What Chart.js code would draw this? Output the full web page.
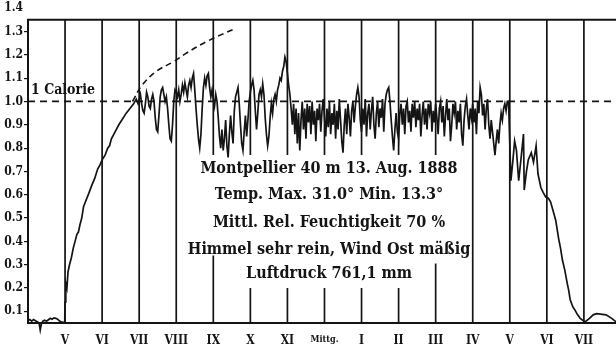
<!DOCTYPE html>
<html>
<head>
<meta charset="utf-8">
<script src="https://cdn.jsdelivr.net/npm/chart.js@4/dist/chart.umd.min.js"></script>
<style>
  html, body { margin: 0; padding: 0; background: #ffffff; }
  #wrap { width: 616px; height: 345px; }
</style>
</head>
<body>
<div id="wrap"><canvas id="c" width="616" height="345"></canvas></div>
<script>
// ---- tick data ----
const hourTicks  = [5, 6, 7, 8, 9, 10, 11, 12, 13, 14, 15, 16, 17, 18, 19];
const hourLabels = ['V', 'VI', 'VII', 'VIII', 'IX', 'X', 'XI', 'Mittg.', 'I', 'II', 'III', 'IV', 'V', 'VI', 'VII'];
const calorieTicks = [0.1, 0.2, 0.3, 0.4, 0.5, 0.6, 0.7, 0.8, 0.9, 1.0, 1.1, 1.2, 1.3, 1.4];

// hour lines are interrupted behind the text block: upper part ends at gapTop, lower part resumes at gapBottom
const hourLineGapTop    = [null, null, null, null, 0.77, 0.77, 0.77, 0.77, 0.77, 0.77, 0.77, null, null, null, null];
const hourLineGapBottom = [null, null, null, null, 0.34, 0.20, 0.20, 0.20, 0.20, 0.20, 0.305, null, null, null, null];

// ---- readings [hour, calories] ----
const nightReadings = [
  [4.00,0.060],[4.05,0.065],[4.10,0.058],[4.15,0.065],[4.20,0.060],[4.25,0.055],[4.30,0.050],[4.33,0.020],
  [4.36,0.045],[4.40,0.058],[4.45,0.062],[4.50,0.058],[4.55,0.064],[4.60,0.070],[4.65,0.066],[4.70,0.072],
  [4.75,0.070],[4.80,0.066],[4.85,0.058],[4.90,0.055],[4.95,0.053],[4.99,0.050]
];
const sunriseReadings = [
  [5.00,0.14],[5.02,0.22],[5.05,0.20],[5.08,0.27],[5.12,0.30],[5.17,0.33],[5.22,0.37],[5.27,0.40],
  [5.32,0.43],[5.36,0.44],[5.40,0.47],[5.45,0.50],[5.50,0.55],[5.55,0.57],[5.60,0.59],[5.65,0.61],
  [5.72,0.64],[5.80,0.67],[5.88,0.71],[5.95,0.73],[6.00,0.75],[6.08,0.77],[6.15,0.80],[6.20,0.81],
  [6.25,0.84],[6.30,0.855],[6.35,0.87],[6.45,0.90],[6.55,0.925],[6.65,0.95],[6.75,0.97],[6.85,0.99],
  [6.92,1.01],[6.97,0.99]
];
// daytime record: 30 readings per hour (every 2 minutes), hour by hour
const dayHours = [7, 8, 9, 10, 11, 12, 13, 14, 15, 16];
const cal07 = [1.01,1.03,0.99,0.96,0.95,0.99,1.04,1.02,0.98,0.97,1.01,1.03,1.00,0.93,0.88,0.87,0.94,1.02,1.05,1.06,1.03,1.00,1.02,0.97,0.90,0.84,0.83,0.90,1.00,1.05];
const cal08 = [1.04,1.02,1.05,1.00,1.03,1.07,1.04,1.08,1.05,1.02,1.07,1.09,1.06,1.10,1.12,1.05,0.97,0.90,0.84,0.80,0.86,0.97,1.06,1.10,1.07,1.11,1.12,1.06,1.02,1.05];
const cal09 = [1.01,0.98,1.03,1.00,0.93,0.85,0.80,0.88,0.79,0.84,0.92,0.81,0.76,0.86,0.94,0.87,0.82,0.96,1.02,1.04,1.06,0.99,0.90,0.82,0.79,0.87,0.94,0.85,0.92,1.00];
const cal10 = [1.04,1.07,1.09,1.05,0.96,0.88,0.95,1.03,1.05,1.02,1.075,1.03,0.93,0.86,0.81,0.85,0.93,0.99,0.95,1.01,1.03,1.00,1.05,1.07,1.10,1.09,1.13,1.15,1.19,1.17];
const cal11 = [1.12,1.07,1.03,0.97,0.90,0.99,0.86,0.97,0.82,0.95,0.79,0.92,1.00,0.88,0.97,0.84,0.99,0.91,0.98,0.86,1.00,0.90,0.96,0.83,0.97,0.92,0.99,0.87,0.96,1.01];
const cal12 = [0.93,0.85,0.97,0.89,1.00,0.86,0.95,0.90,0.99,0.84,0.96,0.88,1.01,0.92,0.83,0.78,0.90,0.97,0.86,0.99,0.93,0.85,0.96,1.00,0.91,0.98,1.03,1.06,1.02,0.92];
const cal13 = [0.87,0.97,0.90,1.01,0.85,0.95,0.99,0.88,0.96,1.02,0.90,0.84,0.95,1.00,0.89,0.97,0.93,1.01,0.87,0.99,1.03,1.05,1.06,1.00,0.92,0.85,0.79,0.88,0.95,0.87];
const cal14 = [0.84,0.95,0.99,0.90,0.97,0.86,0.98,1.00,0.91,0.96,0.87,0.99,0.93,1.00,0.89,0.97,0.92,0.99,0.85,0.94,1.00,0.90,0.97,0.88,0.99,0.95,1.00,0.87,0.96,0.91];
const cal15 = [0.99,0.93,0.86,0.97,1.00,0.91,0.98,0.85,0.94,1.01,0.92,0.97,0.83,0.90,0.99,0.95,1.00,0.88,0.96,0.91,0.99,0.86,0.81,0.92,0.98,1.01,0.94,0.88,0.97,0.93];
const cal16 = [0.99,0.91,0.97,0.86,1.00,0.95,1.06,1.03,0.94,0.99,0.88,0.97,1.01,0.90,0.84,0.92,0.87,0.82,0.77,0.83,0.88,0.82,0.90,0.95,0.92,0.97,0.99,0.96,1.00,1.00];
const readingsPerHour = 30;

const sunsetReadings = [
  [17.03,0.66],[17.08,0.74],[17.13,0.83],[17.18,0.79],[17.24,0.66],[17.30,0.75],[17.37,0.86],[17.39,0.62],
  [17.45,0.70],[17.50,0.75],[17.58,0.78],[17.64,0.74],[17.71,0.81],[17.76,0.69],[17.84,0.63],[17.90,0.61],
  [17.97,0.59],[18.04,0.585],[18.10,0.57],[18.17,0.53],[18.24,0.49],[18.28,0.45],[18.32,0.41],[18.37,0.37],
  [18.42,0.32],[18.48,0.28],[18.55,0.22],[18.59,0.19],[18.63,0.15],[18.70,0.12],[18.76,0.105],[18.83,0.085],
  [18.90,0.07],[19.03,0.055],[19.15,0.07],[19.25,0.085],[19.34,0.09],[19.45,0.088],[19.60,0.085],[19.75,0.07],
  [19.87,0.055]
];
// dashed extrapolation of the clear-sky curve
const clearSkyCurve = [[6.82,1.00],[7.08,1.07],[7.47,1.13],[7.92,1.17],[8.30,1.21],[8.86,1.26],[9.55,1.31]];
const calorieLevel = 1.0;
const frameTop = 1.35;

const noteLines = [
  'Montpellier 40 m 13. Aug. 1888',
  'Temp. Max. 31.0° Min. 13.3°',
  'Mittl. Rel. Feuchtigkeit 70 %',
  'Himmel sehr rein, Wind Ost mäßig',
  'Luftdruck 761,1 mm'
];
const calorieLabel = '1 Calorie';

// ---- build datasets ----
const INK = '#141414';
const XMIN = 4, XMAX = 19.866, YMIN = 0.05, YMAX = 1.4;
const FONT = '"DejaVu Serif Condensed", "DejaVu Serif", "Liberation Serif", serif';

const toPts = arr => arr.map(p => ({x: p[0], y: p[1]}));
const dayValues = [cal07, cal08, cal09, cal10, cal11, cal12, cal13, cal14, cal15, cal16];
const dayPts = [];
dayHours.forEach((h, k) => dayValues[k].forEach((v, i) => dayPts.push({x: h + i / readingsPerHour, y: v})));
const trace = [].concat(toPts(nightReadings), toPts(sunriseReadings), dayPts, toPts(sunsetReadings));

const hourLinePts = [];
hourTicks.forEach((h, i) => {
  if (hourLineGapTop[i] === null) {
    hourLinePts.push({x: h, y: YMIN}, {x: h, y: frameTop}, {x: h, y: null});
  } else {
    hourLinePts.push({x: h, y: frameTop}, {x: h, y: hourLineGapTop[i]}, {x: h, y: null});
    hourLinePts.push({x: h, y: hourLineGapBottom[i]}, {x: h, y: YMIN}, {x: h, y: null});
  }
});

const framePts = [{x: XMIN, y: YMIN}, {x: XMIN, y: frameTop}, {x: XMAX, y: frameTop}];
const calPts = [{x: XMIN, y: calorieLevel}, {x: XMAX, y: calorieLevel}];

const textPlugin = {
  id: 'notes',
  afterDatasetsDraw(chart) {
    const ctx = chart.ctx;
    ctx.save();
    ctx.fillStyle = INK;
    ctx.textAlign = 'center';
    ctx.textBaseline = 'middle';
    ctx.font = 'bold 16px ' + FONT;
    const ys = [169, 195, 223, 250, 274];
    noteLines.forEach((t, i) => ctx.fillText(t, 329, ys[i]));
    ctx.textAlign = 'left';
    ctx.font = 'bold 14px ' + FONT;
    ctx.fillText(calorieLabel, 31, 90);
    ctx.restore();
  }
};

new Chart(document.getElementById('c'), {
  type: 'line',
  data: {
    datasets: [
      { data: trace, borderColor: INK, borderWidth: 1.7, tension: 0, pointRadius: 0, clip: false, spanGaps: false },
      { data: toPts(clearSkyCurve), borderColor: INK, borderWidth: 1.6, borderDash: [6, 4], tension: 0.4, pointRadius: 0 },
      { data: calPts, borderColor: INK, borderWidth: 1.8, borderDash: [7, 5], pointRadius: 0, clip: false },
      { data: framePts, borderColor: INK, borderWidth: 2, pointRadius: 0, clip: false },
      { data: hourLinePts, borderColor: INK, borderWidth: 1.7, pointRadius: 0, spanGaps: false, clip: false }
    ]
  },
  options: {
    responsive: false,
    animation: false,
    events: [],
    layout: { padding: { top: 7, right: 0, left: 0, bottom: 0 } },
    plugins: { legend: { display: false }, tooltip: { enabled: false } },
    elements: { point: { radius: 0 } },
    scales: {
      x: {
        type: 'linear', min: XMIN, max: XMAX,
        afterBuildTicks: s => { s.ticks = hourTicks.map(v => ({value: v})); },
        afterFit: s => { s.height = 22; },
        grid: { display: false },
        border: { display: true, color: INK, width: 2 },
        ticks: {
          autoSkip: false, maxRotation: 0, padding: 3, color: INK,
          callback: (v) => hourLabels[hourTicks.indexOf(v)],
          font: (c) => ({ family: FONT, weight: 'bold', size: (c.tick && c.tick.value === 12) ? 9 : 12 })
        }
      },
      y: {
        type: 'linear', min: YMIN, max: YMAX,
        afterBuildTicks: s => { s.ticks = calorieTicks.map(v => ({value: v})); },
        afterFit: s => { s.width = 28; },
        grid: {
          drawOnChartArea: false, drawTicks: true, tickLength: 4, lineWidth: 1.2,
          color: (c) => (c.tick && c.tick.value === 1.4) ? 'rgba(0,0,0,0)' : INK
        },
        border: { display: false },
        ticks: {
          padding: 1, color: INK,
          callback: v => v.toFixed(1),
          font: { family: FONT, weight: 'bold', size: 12 }
        }
      }
    }
  },
  plugins: [textPlugin]
});
</script>
</body>
</html>
